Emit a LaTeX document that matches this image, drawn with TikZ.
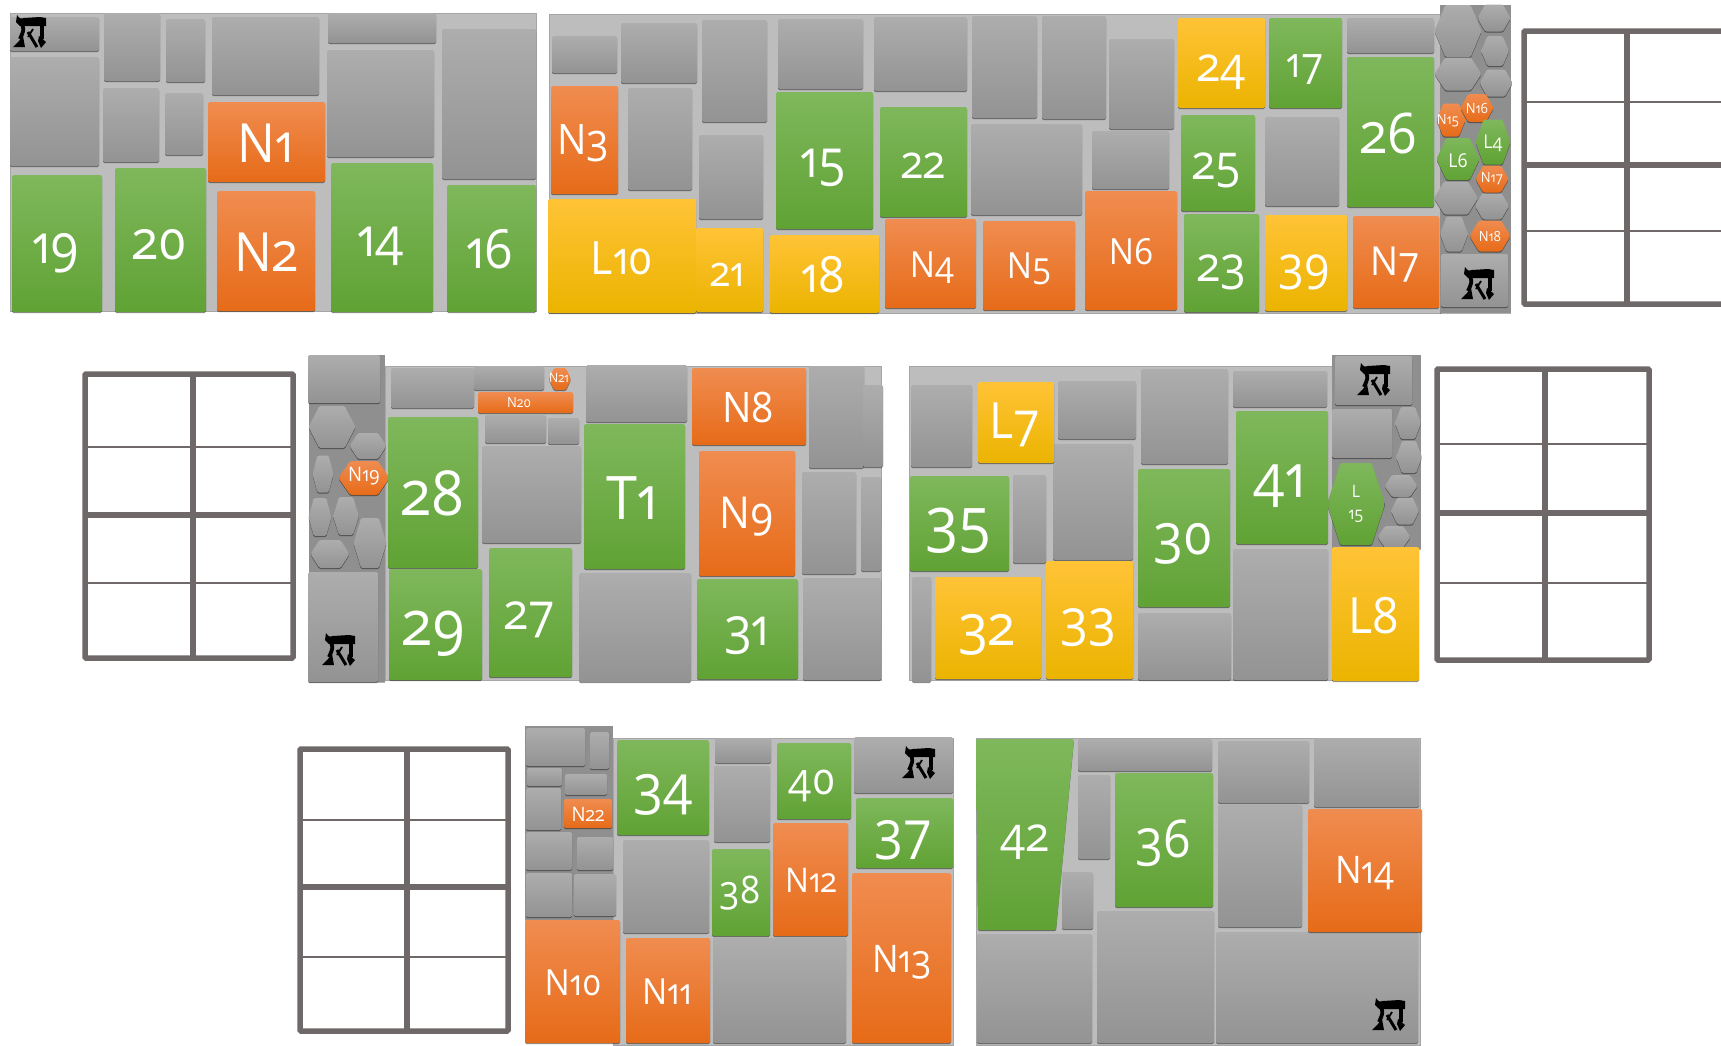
\documentclass[tikz,border=0pt]{standalone}
\usepackage{fontspec}
\setmainfont[Numbers=OldStyle]{Open Sans}
\usetikzlibrary{shadows}
\definecolor{bgtile}{HTML}{BDBDBD}
\definecolor{sidetile}{HTML}{8F8F8F}
\definecolor{framegrey}{HTML}{6E6868}
\definecolor{tgreya}{HTML}{ADADAD}
\definecolor{tgreyb}{HTML}{939393}
\definecolor{tgreena}{HTML}{7FB85C}
\definecolor{tgreenb}{HTML}{6CAF40}
\definecolor{tgreenc}{HTML}{60A234}
\definecolor{torangea}{HTML}{F08C50}
\definecolor{torangeb}{HTML}{F27A28}
\definecolor{torangec}{HTML}{E66B18}
\definecolor{tyellowa}{HTML}{FFC336}
\definecolor{tyellowb}{HTML}{FFC000}
\definecolor{tyellowc}{HTML}{EBB400}
\tikzset{
  basetile/.style={rounded corners=1.5pt,drop shadow={shadow xshift=0pt,shadow yshift=-1.2pt,opacity=.45,fill=black}},
  greytile/.style={basetile,top color=tgreya,bottom color=tgreyb},
  greentile/.style={basetile,top color=tgreena,middle color=tgreenb,bottom color=tgreenc},
  orangetile/.style={basetile,top color=torangea,middle color=torangeb,bottom color=torangec},
  yellowtile/.style={basetile,top color=tyellowa,middle color=tyellowb,bottom color=tyellowc},
  lab/.style={text=white,inner sep=0pt,xscale=.93,yscale=1,font=\fontsize{#1}{#1}\selectfont},
  backpanel/.style={fill=bgtile,draw=black!35,line width=.5pt},
  sidepanel/.style={fill=sidetile,drop shadow={shadow xshift=0pt,shadow yshift=-1.2pt,opacity=.3,fill=black}},
  gridthick/.style={draw=framegrey,line width=5.5pt,rounded corners=1pt},
  gridthin/.style={draw=framegrey,line width=2.2pt},
  mark/.pic={
    \fill[black] (-13,-17) .. controls (-10,-13) .. (-6,-14) -- (10,-15) -- (16,-14) -- (16,-6) -- (-10,-6) -- (-14,-10) -- cycle;
    \draw[black,line width=3.8pt] (-8,-8) .. controls (-6,-2) .. (-10,7);
    \draw[black,line width=3.6pt] (12,-8) -- (12,7);
    \fill[black] (9,4) -- (16,10) -- (11,16) -- (8,9) -- cycle;
    \fill[black] (-17,15) -- (-11,9) -- (-7,4) -- (-5,15) -- cycle;
    \draw[black,line width=3pt] (-2,0) -- (7,15);
    \draw[black,line width=1.8pt] (3,-3) -- (-2,5);
  }
}
\newcommand{\hexa}[5]{\path[#1] ({#2-#4/2},#3) -- ({#2-#4*.27},{#3-#5/2}) -- ({#2+#4*.27},{#3-#5/2}) -- ({#2+#4/2},#3) -- ({#2+#4*.27},{#3+#5/2}) -- ({#2-#4*.27},{#3+#5/2}) -- cycle;}
\begin{document}
\begin{tikzpicture}[x=1pt,y=-1pt]
\useasboundingbox (0,0) rectangle (1721,1045);

\path[backpanel] (10,13) rectangle (536,311);
\path[greytile] (10,17) rectangle (99,51);
\path[greytile] (10,57) rectangle (99,166);
\path[greytile] (104,13) rectangle (160,81);
\path[greytile] (166,19) rectangle (205,82);
\path[greytile] (103,88) rectangle (159,162);
\path[greytile] (165,93) rectangle (203,155);
\path[greytile] (212,17) rectangle (319,95);
\path[greytile] (328,13) rectangle (436,43);
\path[greytile] (327,50) rectangle (434,157);
\path[greytile] (442,29) rectangle (536,179);
\path[orangetile] (208,102) rectangle (325,182);
\path[orangetile] (217,191) rectangle (315,311);
\path[greentile] (12,175) rectangle (102,312);
\path[greentile] (115,168) rectangle (206,312);
\path[greentile] (331,163) rectangle (433,312);
\path[greentile] (447,185) rectangle (536,312);
\pic at (30,32) {mark};
\node[lab=54] (n1) at (266,143) {N1};
\node[lab=54] (n2) at (266,252) {N2};
\node[lab=54] (g19) at (56,253) {19};
\node[lab=54] (g20) at (160,245) {20};
\node[lab=54] (g14) at (381,246) {14};
\node[lab=54] (g16) at (490,249) {16};

\path[backpanel] (549,14) rectangle (1440,313);
\path[greytile] (552,36) rectangle (617,73);
\path[greytile] (621,23) rectangle (697,83);
\path[greytile] (702,20) rectangle (767,122);
\path[greytile] (778,19) rectangle (863,89);
\path[greytile] (874,17) rectangle (967,91);
\path[greytile] (628,88) rectangle (692,190);
\path[greytile] (699,135) rectangle (763,219);
\path[greytile] (972,16) rectangle (1037,118);
\path[greytile] (1042,16) rectangle (1106,119);
\path[greytile] (1109,39) rectangle (1174,129);
\path[greytile] (1347,18) rectangle (1434,53);
\path[greytile] (971,124) rectangle (1082,215);
\path[greytile] (1092,131) rectangle (1169,189);
\path[greytile] (1265,117) rectangle (1339,206);
\path[orangetile] (551,86) rectangle (618,194);
\path[orangetile] (885,219) rectangle (976,308);
\path[orangetile] (983,221) rectangle (1075,310);
\path[orangetile] (1085,191) rectangle (1177,310);
\path[orangetile] (1353,216) rectangle (1439,308);
\path[greentile] (776,92) rectangle (873,229);
\path[greentile] (880,107) rectangle (967,217);
\path[greentile] (1269,18) rectangle (1342,108);
\path[greentile] (1347,57) rectangle (1434,207);
\path[greentile] (1181,115) rectangle (1255,211);
\path[greentile] (1184,214) rectangle (1259,312);
\path[yellowtile] (548,199) rectangle (696,313);
\path[yellowtile] (696,228) rectangle (763,312);
\path[yellowtile] (770,235) rectangle (879,313);
\path[yellowtile] (1178,18) rectangle (1265,108);
\path[yellowtile] (1265,215) rectangle (1347,311);
\node[lab=42] (n3) at (583,143) {N3};
\node[lab=36] (n4) at (932,268) {N4};
\node[lab=36] (n5) at (1029,269) {N5};
\node[lab=36] (n6) at (1131,252) {N6};
\node[lab=40] (n7) at (1395,265) {N7};
\node[lab=46] (l10) at (622,258) {L10};
\node[lab=42] (g21) at (728,275) {21};
\node[lab=50] (g18) at (823,275) {18};
\node[lab=52] (g15) at (823,168) {15};
\node[lab=46] (g22) at (923,166) {22};
\node[lab=48] (g24) at (1222,72) {24};
\node[lab=42] (g17) at (1305,70) {17};
\node[lab=48] (g25) at (1217,170) {25};
\node[lab=48] (g23) at (1222,272) {23};
\node[lab=48] (g39) at (1304,272) {39};
\node[lab=56] (g26) at (1389,133) {26};

\path[sidepanel] (1440,5) rectangle (1511,313);
\hexa{greytile}{1458}{31}{47}{52}
\hexa{greytile}{1494}{18}{33}{27}
\hexa{greytile}{1495}{51}{28}{30}
\hexa{greytile}{1458}{74}{47}{33}
\hexa{greytile}{1496}{83}{33}{27}
\hexa{greytile}{1456}{198}{44}{33}
\hexa{greytile}{1492}{206}{34}{27}
\hexa{greytile}{1454}{234}{28}{35}
\hexa{orangetile}{1451}{120}{29}{33}
\hexa{orangetile}{1477}{108}{33}{28}
\hexa{greentile}{1493}{142}{35}{45}
\hexa{greentile}{1458}{159}{43}{42}
\hexa{orangetile}{1492}{179}{33}{27}
\hexa{orangetile}{1490}{236}{41}{31}
\path[greytile] (1441,254) rectangle (1508,307);
\pic at (1478,284) {mark};
\node[lab=14] (n15) at (1448,121) {N15};
\node[lab=14] (n16) at (1477,108) {N16};
\node[lab=14] (n17) at (1492,179) {N17};
\node[lab=14] (n18) at (1490,236) {N18};
\node[lab=19] (l4) at (1493,143) {L4};
\node[lab=19] (l6) at (1458,161) {L6};

\draw[gridthick] (1524,31) rectangle (1740,304);
\draw[gridthick] (1627,31) -- (1627,304);
\draw[gridthin] (1524,102) -- (1740,102);
\draw[gridthick] (1524,165) -- (1740,165);
\draw[gridthin] (1524,231) -- (1740,231);

\draw[gridthick] (85,374) rectangle (293,658);
\draw[gridthick] (193,374) -- (193,658);
\draw[gridthin] (85,447) -- (293,447);
\draw[gridthick] (85,515) -- (293,515);
\draw[gridthin] (85,583) -- (293,583);

\path[backpanel] (385,366) rectangle (881,680);
\path[sidepanel] (309,355) rectangle (385,682);
\path[greytile] (308,355) rectangle (380,403);
\path[greytile] (308,572) rectangle (378,682);
\hexa{greytile}{332}{427}{47}{42}
\hexa{greytile}{368}{446}{37}{26}
\hexa{greytile}{323}{474}{21}{37}
\hexa{greytile}{320}{517}{23}{38}
\hexa{greytile}{346}{516}{26}{38}
\hexa{greytile}{370}{543}{33}{50}
\hexa{greytile}{330}{554}{39}{28}
\pic at (339,650) {mark};
\path[greytile] (391,368) rectangle (474,408);
\path[greytile] (474,366) rectangle (544,390);
\path[greytile] (485,415) rectangle (546,443);
\path[greytile] (548,418) rectangle (579,444);
\path[greytile] (482,446) rectangle (581,543);
\path[greytile] (586,365) rectangle (687,422);
\path[greytile] (579,573) rectangle (691,682);
\path[greytile] (809,366) rectangle (864,468);
\path[greytile] (863,385) rectangle (883,467);
\path[greytile] (802,472) rectangle (856,574);
\path[greytile] (861,477) rectangle (881,571);
\path[greytile] (803,578) rectangle (881,680);
\path[orangetile] (478,392) rectangle (573,413);
\hexa{orangetile}{560}{379}{22}{22}
\path[orangetile] (692,368) rectangle (806,445);
\path[orangetile] (699,451) rectangle (795,576);
\hexa{orangetile}{364}{478}{51}{34}
\path[greentile] (388,417) rectangle (478,568);
\path[greentile] (389,569) rectangle (482,680);
\path[greentile] (489,548) rectangle (572,677);
\path[greentile] (584,424) rectangle (685,569);
\path[greentile] (697,579) rectangle (798,679);
\node[lab=20] (n19) at (364,476) {N19};
\node[lab=14] (n20) at (519,403) {N20};
\node[lab=13] (n21) at (559,378) {N21};
\node[lab=42] (n8) at (748,407) {N8};
\node[lab=44] (n9) at (747,517) {N9};
\node[lab=62] (g28) at (433,493) {28};
\node[lab=62] (g29) at (434,634) {29};
\node[lab=50] (g27) at (530,620) {27};
\node[lab=60] (t1) at (632,498) {T1};
\node[lab=52] (g31) at (747,636) {31};

\path[backpanel] (909,366) rectangle (1332,680);
\path[sidepanel] (1332,355) rectangle (1421,549);
\path[greytile] (911,385) rectangle (972,467);
\path[greytile] (1058,381) rectangle (1136,439);
\path[greytile] (1141,369) rectangle (1228,464);
\path[greytile] (1233,371) rectangle (1327,407);
\path[greytile] (1013,475) rectangle (1046,563);
\path[greytile] (1053,444) rectangle (1133,560);
\path[greytile] (912,577) rectangle (931,682);
\path[greytile] (1138,613) rectangle (1231,680);
\path[greytile] (1233,549) rectangle (1328,680);
\path[greytile] (1335,356) rectangle (1412,405);
\path[greytile] (1332,409) rectangle (1392,458);
\hexa{greytile}{1408}{423}{26}{32}
\hexa{greytile}{1409}{457}{26}{32}
\hexa{greytile}{1401}{486}{33}{22}
\hexa{greytile}{1405}{511}{28}{27}
\hexa{greentile}{1356}{504}{58}{82}
\hexa{greytile}{1394}{537}{33}{22}
\pic at (1374,380) {mark};
\path[yellowtile] (978,382) rectangle (1054,463);
\path[yellowtile] (935,577) rectangle (1041,679);
\path[yellowtile] (1046,561) rectangle (1133,679);
\path[yellowtile] (1332,547) rectangle (1419,681);
\path[greentile] (910,476) rectangle (1009,571);
\path[greentile] (1138,469) rectangle (1230,607);
\path[greentile] (1236,411) rectangle (1328,544);
\node[lab=50] (l7) at (1015,425) {L7};
\node[lab=50] (l8) at (1374,616) {L8};
\node[lab=17,align=center] (l15) at (1356,504) {L\\[5pt]15};
\node[lab=62] (g35) at (958,531) {35};
\node[lab=56] (g32) at (987,635) {32};
\node[lab=52] (g33) at (1088,628) {33};
\node[lab=56] (g30) at (1183,544) {30};
\node[lab=60] (g41) at (1280,486) {41};

\draw[gridthick] (1437,369) rectangle (1649,660);
\draw[gridthick] (1545,369) -- (1545,660);
\draw[gridthin] (1437,444) -- (1649,444);
\draw[gridthick] (1437,513) -- (1649,513);
\draw[gridthin] (1437,583) -- (1649,583);

\draw[gridthick] (300,749) rectangle (508,1031);
\draw[gridthick] (407,749) -- (407,1031);
\draw[gridthin] (300,820) -- (508,820);
\draw[gridthick] (300,887) -- (508,887);
\draw[gridthin] (300,957) -- (508,957);

\path[backpanel] (613,738) rectangle (953,1045);
\path[sidepanel] (525,726) rectangle (613,920);
\path[greytile] (526,728) rectangle (585,766);
\path[greytile] (590,732) rectangle (609,769);
\path[greytile] (527,768) rectangle (562,786);
\path[greytile] (565,774) rectangle (607,795);
\path[greytile] (526,788) rectangle (561,830);
\path[greytile] (526,832) rectangle (572,870);
\path[greytile] (577,837) rectangle (613,870);
\path[greytile] (526,873) rectangle (572,917);
\path[greytile] (574,874) rectangle (616,916);
\path[greytile] (715,738) rectangle (771,763);
\path[greytile] (714,766) rectangle (770,842);
\path[greytile] (854,737) rectangle (953,793);
\path[greytile] (623,840) rectangle (709,933);
\path[greytile] (713,938) rectangle (846,1043);
\path[orangetile] (564,799) rectangle (612,828);
\path[orangetile] (773,823) rectangle (848,936);
\path[orangetile] (852,873) rectangle (951,1043);
\path[orangetile] (525,920) rectangle (620,1043);
\path[orangetile] (626,938) rectangle (710,1043);
\path[greentile] (617,740) rectangle (709,835);
\path[greentile] (777,743) rectangle (851,819);
\path[greentile] (856,798) rectangle (953,868);
\path[greentile] (712,849) rectangle (770,936);
\pic at (919,763) {mark};
\node[lab=20] (n22) at (588,814) {N22};
\node[lab=34] (n12) at (811,880) {N12};
\node[lab=38] (n13) at (902,962) {N13};
\node[lab=36] (n10) at (573,983) {N10};
\node[lab=36] (n11) at (667,992) {N11};
\node[lab=56] (g34) at (663,795) {34};
\node[lab=44] (g40) at (812,786) {40};
\node[lab=38] (g38) at (740,893) {38};
\node[lab=54] (g37) at (903,840) {37};

\path[backpanel] (976,738) rectangle (1420,1045);
\path[greentile] (976,739) -- (1074,739) -- (1056,930) -- (978,930) -- cycle;
\path[greytile] (1078,739) rectangle (1212,771);
\path[greytile] (1078,775) rectangle (1110,859);
\path[greytile] (1062,872) rectangle (1093,929);
\path[greytile] (977,934) rectangle (1092,1043);
\path[greytile] (1097,911) rectangle (1214,1043);
\path[greytile] (1218,741) rectangle (1309,803);
\path[greytile] (1314,738) rectangle (1419,807);
\path[greytile] (1218,805) rectangle (1302,927);
\path[greytile] (1216,932) rectangle (1418,1043);
\path[greentile] (1115,773) rectangle (1213,907);
\path[orangetile] (1308,809) rectangle (1422,932);
\pic at (1389,1015) {mark};
\node[lab=48] (g42) at (1025,842) {42};
\node[lab=52] (g36) at (1163,843) {36};
\node[lab=38] (n14) at (1365,873) {N14};
\end{tikzpicture}
\end{document}
